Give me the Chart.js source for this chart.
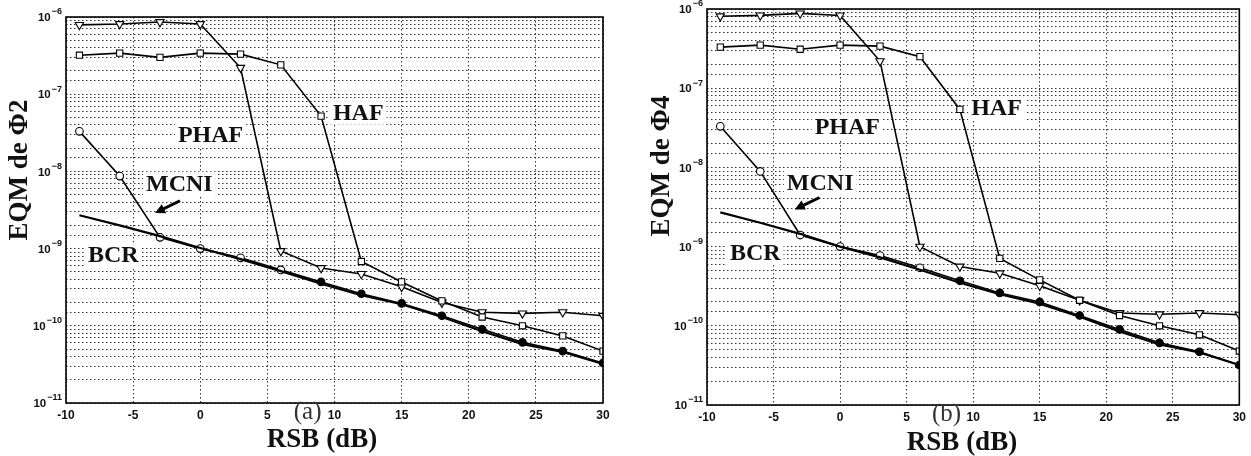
<!DOCTYPE html>
<html>
<head>
<meta charset="utf-8">
<script src="https://cdn.jsdelivr.net/npm/chart.js@4.4.1/dist/chart.umd.min.js"></script>
<style>
  html, body { margin: 0; padding: 0; background: #fff; }
  #wrap { position: relative; width: 1251px; height: 456px; }
  .panel { position: absolute; top: 0; height: 456px; }
  #pa { left: 0; width: 625px; }
  #pb { left: 625px; width: 626px; }
</style>
</head>
<body>
<div id="wrap">
  <div class="panel" id="pa"><canvas id="chartA" width="625" height="456"></canvas></div>
  <div class="panel" id="pb"><canvas id="chartB" width="626" height="456"></canvas></div>
</div>
<script>
// RSB values (dB)
const snr = [-9, -6, -3, 0, 3, 6, 9, 12, 15, 18, 21, 24, 27, 30];
// decade labels on the EQM axis
const yDecades = [1e-11, 1e-10, 1e-9, 1e-8, 1e-7, 1e-6];

// panel (a) : EQM de Φ2
const phafA = [7.9e-7, 8.1e-7, 8.6e-7, 8.1e-7, 2.2e-7, 9.3e-10, 5.6e-10, 4.7e-10, 3.2e-10, 2.0e-10, 1.5e-10, 1.45e-10, 1.5e-10, 1.35e-10];
const hafA  = [3.2e-7, 3.4e-7, 3.0e-7, 3.4e-7, 3.3e-7, 2.4e-7, 5.2e-8, 6.8e-10, 3.7e-10, 2.1e-10, 1.3e-10, 1.0e-10, 7.4e-11, 4.7e-11];
const mcniA = [3.3e-8, 8.7e-9, 1.4e-9, 1.0e-9, 7.6e-10, 5.3e-10, 3.7e-10, 2.6e-10, 1.95e-10, 1.35e-10, 9.0e-11, 6.1e-11, 4.7e-11, 3.3e-11];
const bcrA  = [2.7e-9, 2.0e-9, 1.45e-9, 1.02e-9, 7.3e-10, 5.1e-10, 3.5e-10, 2.5e-10, 1.9e-10, 1.3e-10, 8.5e-11, 5.8e-11, 4.6e-11, 3.2e-11];

// panel (b) : EQM de Φ4
const phafB = [8.1e-7, 8.3e-7, 8.8e-7, 8.3e-7, 2.2e-7, 1.0e-9, 5.6e-10, 4.6e-10, 3.2e-10, 2.1e-10, 1.45e-10, 1.4e-10, 1.45e-10, 1.38e-10];
const hafB  = [3.3e-7, 3.5e-7, 3.1e-7, 3.5e-7, 3.4e-7, 2.5e-7, 5.4e-8, 7.1e-10, 3.8e-10, 2.1e-10, 1.35e-10, 1.0e-10, 7.7e-11, 4.8e-11];
const mcniB = [3.3e-8, 8.9e-9, 1.4e-9, 1.0e-9, 7.7e-10, 5.4e-10, 3.7e-10, 2.6e-10, 2.0e-10, 1.35e-10, 9.0e-11, 6.1e-11, 4.7e-11, 3.2e-11];
const bcrB  = [2.7e-9, 2.0e-9, 1.45e-9, 1.0e-9, 7.3e-10, 5.1e-10, 3.5e-10, 2.5e-10, 1.9e-10, 1.3e-10, 8.5e-11, 5.8e-11, 4.6e-11, 3.2e-11];

// curve names written on the plot, and where (RSB, log10 EQM)
const curveNames = ['PHAF', 'HAF', 'MCNI', 'BCR'];
const namePosA = [[-1.66, -7.52], [9.88, -7.24], [-4.04, -8.16], [-8.36, -9.08]];
const namePosB = [[-1.91, -7.49], [9.85, -7.25], [-4.0, -8.19], [-8.28, -9.08]];
const arrowA = [[-1.51, -8.38], [-3.37, -8.54]];
const arrowB = [[-1.54, -8.38], [-3.41, -8.53]];

function pts(vals) {
  return snr.map((x, i) => ({ x: x, y: vals[i] }));
}

// names, arrow, frame, titles, 10^n labels
const decor = {
  id: 'decor',
  beforeDatasetsDraw(chart, args, o) {
    const { ctx, scales: { x, y } } = chart;
    ctx.save();
    ctx.font = 'bold 24px "Liberation Serif"';
    ctx.textBaseline = 'middle';
    o.names.forEach((t, i) => {
      const px = x.getPixelForValue(o.pos[i][0]);
      const py = y.getPixelForValue(Math.pow(10, o.pos[i][1]));
      const w = ctx.measureText(t).width;
      ctx.fillStyle = '#fff';
      ctx.fillRect(px - 3, py - 12, w + 6, 24);
      ctx.fillStyle = '#111';
      ctx.fillText(t, px, py + 1);
    });
    // arrow towards the MCNI curve
    const x0 = x.getPixelForValue(o.arrow[0][0]), y0 = y.getPixelForValue(Math.pow(10, o.arrow[0][1]));
    const x1 = x.getPixelForValue(o.arrow[1][0]), y1 = y.getPixelForValue(Math.pow(10, o.arrow[1][1]));
    const ang = Math.atan2(y1 - y0, x1 - x0);
    ctx.strokeStyle = '#000';
    ctx.fillStyle = '#000';
    ctx.lineWidth = 3;
    ctx.beginPath();
    ctx.moveTo(x0, y0);
    ctx.lineTo(x1 - 6 * Math.cos(ang), y1 - 6 * Math.sin(ang));
    ctx.stroke();
    ctx.beginPath();
    ctx.moveTo(x1, y1);
    ctx.lineTo(x1 - 10 * Math.cos(ang) + 5 * Math.sin(ang), y1 - 10 * Math.sin(ang) - 5 * Math.cos(ang));
    ctx.lineTo(x1 - 10 * Math.cos(ang) - 5 * Math.sin(ang), y1 - 10 * Math.sin(ang) + 5 * Math.cos(ang));
    ctx.closePath();
    ctx.fill();
    ctx.restore();
  },
  afterDraw(chart, args, o) {
    const { ctx, chartArea: a, scales: { x, y } } = chart;
    ctx.save();
    ctx.strokeStyle = '#000';
    ctx.lineWidth = 1.6;
    ctx.strokeRect(a.left, a.top, a.width, a.height);

    // 10^n tick labels with a real raised exponent
    ctx.fillStyle = '#111';
    ctx.textBaseline = 'middle';
    ctx.textAlign = 'right';
    yDecades.forEach(v => {
      const py = y.getPixelForValue(v);
      const ex = '−' + String(-Math.round(Math.log10(v)));
      ctx.font = 'bold 9px "Liberation Sans"';
      const ew = ctx.measureText(ex).width;
      ctx.fillText(ex, a.left - 4, py - 5);
      ctx.font = 'bold 11.5px "Liberation Sans"';
      ctx.fillText('10', a.left - 5 - ew, py + 1);
    });

    ctx.textAlign = 'center';
    ctx.font = 'bold 27px "Liberation Serif"';
    ctx.fillText('RSB (dB)', o.xTitle[0], o.xTitle[1]);
    ctx.save();
    ctx.translate(o.yTitle[0], o.yTitle[1]);
    ctx.rotate(-Math.PI / 2);
    ctx.fillText(o.yText, 0, 0);
    ctx.restore();

    ctx.font = '25px "Liberation Serif"';
    ctx.fillStyle = '#333';
    ctx.fillText(o.tag, x.getPixelForValue(8), a.bottom + 9);
    ctx.restore();
  }
};

function makeChart(id, series, cfg) {
  const line = { borderColor: '#000', pointBorderColor: '#000', pointBorderWidth: 1.1, borderWidth: 1.6, tension: 0 };
  const filled = snr.map(v => v >= 9 ? '#000' : '#fff');
  return new Chart(document.getElementById(id), {
    type: 'line',
    data: {
      datasets: [
        Object.assign({ label: 'BCR', data: pts(series.bcr), pointRadius: 0 }, line, { borderWidth: 2.2 }),
        Object.assign({ label: 'MCNI', data: pts(series.mcni), pointStyle: 'circle', pointRadius: 3.8, pointBackgroundColor: filled }, line),
        Object.assign({ label: 'HAF', data: pts(series.haf), pointStyle: 'rect', pointRadius: 4.4, pointBackgroundColor: '#fff' }, line),
        Object.assign({ label: 'PHAF', data: pts(series.phaf), pointStyle: 'triangle', pointRotation: 180, pointRadius: 4.8, pointBackgroundColor: '#fff' }, line)
      ]
    },
    options: {
      responsive: false,
      animation: false,
      devicePixelRatio: 1,
      layout: { padding: cfg.padding },
      plugins: {
        legend: { display: false },
        tooltip: { enabled: false },
        decor: { names: curveNames, pos: cfg.namePos, arrow: cfg.arrow, xTitle: cfg.xTitle, yTitle: cfg.yTitle, yText: cfg.yText, tag: cfg.tag }
      },
      scales: {
        x: {
          type: 'linear',
          min: -10,
          max: 30,
          afterFit: s => { s.height = cfg.xHeight; },
          ticks: { stepSize: 5, padding: 5, color: '#111', font: { family: 'Liberation Sans', size: 12, weight: 'bold' } },
          grid: { color: '#333', lineWidth: 1, drawTicks: false, tickLength: 0 },
          border: { display: false, dash: [1.5, 2.5] }
        },
        y: {
          type: 'logarithmic',
          min: 1e-11,
          max: 1e-6,
          afterFit: s => { s.width = cfg.yWidth; },
          ticks: { autoSkip: false, display: false },
          grid: { color: '#333', lineWidth: 1, drawTicks: false, tickLength: 0 },
          border: { display: false, dash: [1.5, 2.5] }
        }
      }
    },
    plugins: [decor]
  });
}

makeChart('chartA', { phaf: phafA, haf: hafA, mcni: mcniA, bcr: bcrA }, {
  padding: { left: 0, top: 17, right: 22, bottom: 0 },
  yWidth: 66, xHeight: 53,
  namePos: namePosA, arrow: arrowA,
  xTitle: [322, 440], yTitle: [20, 170], yText: 'EQM de Φ2', tag: '(a)'
});

makeChart('chartB', { phaf: phafB, haf: hafB, mcni: mcniB, bcr: bcrB }, {
  padding: { left: 0, top: 9, right: 10, bottom: 0 },
  yWidth: 82, xHeight: 51,
  namePos: namePosB, arrow: arrowB,
  xTitle: [337, 443], yTitle: [37, 166], yText: 'EQM de Φ4', tag: '(b)'
});
</script>
</body>
</html>
